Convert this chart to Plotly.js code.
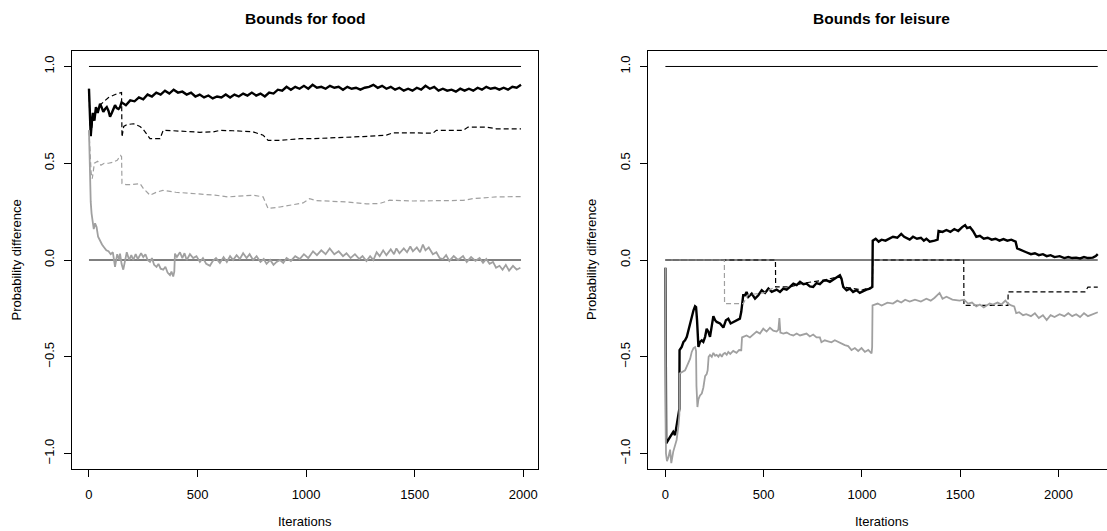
<!DOCTYPE html>
<html>
<head>
<meta charset="utf-8">
<script src="https://cdn.plot.ly/plotly-3.0.1.min.js"></script>
<style>html,body{margin:0;padding:0;background:#fff;}#chart{width:1107px;height:531px;}</style>
</head>
<body>
<div id="chart"></div>
<script>
// ---------- DATA ----------
const panelTitles = ["Bounds for food", "Bounds for leisure"];
const xAxisTitle = "Iterations";
const yAxisTitle = "Probability difference";
const xTickVals = [0, 500, 1000, 1500, 2000];
const xTickText = ["0", "500", "1000", "1500", "2000"];
const yTickVals = [-1, -0.5, 0, 0.5, 1];
const yTickText = ["\u22121.0", "\u22120.5", "0.0", "0.5", "1.0"];

// reference lines
const foodRefX = [0, 1990];
const leisureRefX = [0, 2200];
const refOne = [1, 1];
const refZero = [0, 0];

// food: black solid (noisy)
const foodBlackX = [0,3,8,12,18,25,32,40,51,58,66,74,82,90,97,105,112,120,128,136,143,
  150,170,190,210,230,250,270,290,310,330,
  350,370,390,410,430,450,470,490,510,530,
  550,570,590,610,630,650,670,690,710,730,
  750,770,790,810,830,850,870,890,910,930,
  950,970,990,1010,1030,1050,1070,1090,1110,1130,
  1150,1170,1190,1210,1230,1250,1270,1290,1310,1330,
  1350,1370,1390,1410,1430,1450,1470,1490,1510,1530,
  1550,1570,1590,1610,1630,1650,1670,1690,1710,1730,
  1750,1770,1790,1810,1830,1850,1870,1890,1910,1930,
  1950,1970,1990];
const foodBlackY = [0.885,0.80,0.64,0.70,0.76,0.72,0.79,0.76,0.807,0.79,0.765,0.78,0.79,0.77,0.74,0.76,0.775,0.80,0.785,0.78,0.79,
  0.815,0.80,0.825,0.82,0.84,0.83,0.855,0.845,0.865,0.855,
  0.875,0.86,0.88,0.865,0.87,0.855,0.865,0.845,0.855,0.84,
  0.85,0.835,0.845,0.84,0.855,0.84,0.855,0.845,0.86,0.85,
  0.865,0.85,0.86,0.845,0.865,0.86,0.88,0.875,0.895,0.88,
  0.895,0.885,0.9,0.885,0.905,0.89,0.895,0.885,0.9,0.89,
  0.895,0.88,0.895,0.885,0.89,0.88,0.89,0.895,0.905,0.89,
  0.9,0.885,0.895,0.88,0.89,0.875,0.885,0.875,0.89,0.88,
  0.9,0.885,0.895,0.875,0.885,0.875,0.88,0.87,0.885,0.875,
  0.885,0.875,0.89,0.88,0.895,0.885,0.89,0.88,0.89,0.88,
  0.895,0.89,0.905];

// food: black dashed (step-like)
const foodBlackDashX = [0,5,10,20,35,50,70,90,110,130,
  150,152,160,175,205,235,250,265,281,327,
  342,388,450,511,572,603,664,756,802,825,
  879,971,1032,1109,1186,1262,1370,1400,1492,1584,
  1600,1723,1746,1830,1876,1990];
const foodBlackDashY = [0.885,0.70,0.66,0.74,0.78,0.80,0.82,0.84,0.85,0.86,
  0.865,0.635,0.69,0.70,0.704,0.69,0.675,0.652,0.627,0.627,
  0.67,0.668,0.665,0.66,0.662,0.67,0.668,0.662,0.645,0.618,
  0.618,0.627,0.627,0.63,0.635,0.638,0.645,0.657,0.657,0.655,
  0.67,0.67,0.687,0.687,0.678,0.678];

// food: gray dashed
const foodGrayDashX = [0,5,10,15,25,40,55,70,90,110,
  130,145,150,152,170,200,235,250,265,281,
  310,340,400,460,520,580,640,700,756,802,
  825,880,940,986,1016,1047,1186,1278,1339,1385,
  1492,1646,1723,1769,1876,1990];
const foodGrayDashY = [0.67,0.55,0.45,0.42,0.50,0.51,0.49,0.50,0.50,0.505,
  0.515,0.54,0.535,0.395,0.39,0.39,0.395,0.37,0.352,0.335,
  0.35,0.36,0.35,0.345,0.34,0.335,0.326,0.33,0.335,0.326,
  0.266,0.274,0.288,0.295,0.317,0.307,0.30,0.29,0.292,0.309,
  0.305,0.307,0.308,0.317,0.326,0.328];

// food: gray solid (noisy)
const foodGrayX = [0,2,5,8,12,18,22,28,35,42,50,60,70,80,90,100,110,115,
  120,130,140,143,150,158,165,174,185,195,
  204,215,225,240,250,260,270,281,290,300,
  311,320,330,342,352,362,373,380,388,393,
  396,405,419,430,440,450,465,480,495,511,
  525,540,557,570,585,603,620,635,650,664,
  680,695,710,726,740,756,772,790,805,818,
  835,850,864,880,895,910,930,950,971,990,
  1010,1032,1050,1070,1090,1109,1130,1150,1170,1186,
  1205,1225,1245,1260,1278,1295,1310,1325,1339,1355,
  1370,1390,1405,1416,1430,1450,1465,1480,1492,1510,
  1525,1538,1550,1565,1584,1600,1615,1630,1645,1660,
  1680,1700,1723,1740,1760,1780,1799,1815,1830,1845,
  1861,1875,1891,1905,1920,1935,1953,1970,1987];
const foodGrayY = [0.67,0.55,0.41,0.30,0.24,0.19,0.16,0.19,0.17,0.12,0.10,0.08,0.065,0.05,0.045,0.03,0.04,0.0,
  -0.036,0.03,0.0,0.033,-0.02,-0.05,0.0,0.04,0.0,0.025,
  0.0,0.03,0.005,0.035,0.015,0.03,0.0,-0.01,0.01,-0.025,
  -0.036,-0.02,-0.045,-0.05,-0.035,-0.065,-0.078,-0.06,-0.085,-0.06,
  0.033,0.015,0.04,0.01,0.035,0.0,0.03,0.01,0.02,-0.01,
  0.01,-0.02,-0.03,-0.005,0.01,-0.015,0.015,-0.01,0.02,0.0,
  0.025,0.005,0.035,0.01,0.03,0.0,0.02,-0.01,0.005,-0.02,
  0.0,-0.025,-0.01,0.0,-0.015,0.01,-0.005,0.02,0.005,0.03,
  0.01,0.045,0.025,0.05,0.03,0.06,0.03,0.045,0.02,0.035,
  0.01,0.03,0.005,0.02,-0.005,0.02,0.0,0.04,0.02,0.05,
  0.025,0.055,0.03,0.06,0.035,0.06,0.04,0.07,0.045,0.065,
  0.04,0.08,0.05,0.065,0.03,0.04,0.01,0.005,0.025,-0.005,
  0.02,0.0,0.02,-0.01,0.015,-0.005,0.01,-0.015,0.005,-0.02,
  -0.01,-0.04,-0.03,-0.05,-0.025,-0.055,-0.03,-0.05,-0.04];

// leisure: black solid (noisy)
const leisureBlackX = [0,4,24,40,49,57,66,71,72,83,
  92,100,109,117,126,134,143,151,156,161,
  168,176,185,193,202,210,219,227,236,244,
  253,261,278,295,308,320,332,345,362,379,
  386,396,405,413,422,439,456,473,490,507,
  524,541,566,583,600,617,634,651,668,685,
  702,718,735,752,769,786,803,820,837,854,
  871,888,896,905,922,939,955,972,989,1006,
  1023,1040,1053,1055,1070,1085,1100,1120,1140,1158,
  1180,1200,1215,1230,1243,1260,1280,1300,1315,1328,
  1345,1370,1385,1390,1410,1430,1450,1470,1490,1510,
  1525,1535,1550,1565,1582,1600,1620,1640,1660,1680,
  1700,1720,1740,1760,1782,1790,1800,1820,1836,1860,
  1880,1900,1921,1940,1960,1980,2006,2030,2050,2070,
  2090,2110,2130,2150,2175,2190,2200];
const leisureBlackY = [-0.04,-0.948,-0.914,-0.888,-0.905,-0.853,-0.793,-0.77,-0.466,-0.449,
  -0.423,-0.415,-0.397,-0.363,-0.337,-0.294,-0.26,-0.239,-0.243,-0.311,
  -0.449,-0.423,-0.415,-0.423,-0.397,-0.355,-0.372,-0.397,-0.346,-0.29,
  -0.311,-0.32,-0.328,-0.349,-0.311,-0.303,-0.328,-0.32,-0.311,-0.303,
  -0.268,-0.182,-0.182,-0.165,-0.19,-0.174,-0.2,-0.182,-0.156,-0.17,
  -0.148,-0.165,-0.153,-0.165,-0.148,-0.153,-0.139,-0.122,-0.13,-0.113,
  -0.125,-0.122,-0.136,-0.139,-0.119,-0.125,-0.108,-0.105,-0.113,-0.101,
  -0.091,-0.079,-0.096,-0.139,-0.156,-0.148,-0.165,-0.156,-0.17,-0.16,
  -0.153,-0.148,-0.139,0.10,0.11,0.095,0.105,0.10,0.11,0.12,
  0.115,0.135,0.12,0.11,0.105,0.12,0.11,0.115,0.10,0.11,
  0.095,0.10,0.105,0.15,0.145,0.155,0.145,0.16,0.15,0.17,
  0.18,0.165,0.17,0.15,0.12,0.125,0.11,0.115,0.105,0.11,
  0.10,0.108,0.10,0.105,0.095,0.06,0.055,0.045,0.04,0.03,
  0.035,0.025,0.03,0.02,0.025,0.015,0.02,0.01,0.015,0.01,
  0.012,0.008,0.015,0.01,0.012,0.02,0.03];

// leisure: black dashed
const leisureBlackDashX = [0,560,561,634,700,800,888,905,1000,1053,1055,1518,1519,1743,1744,2135,2150,2200];
const leisureBlackDashY = [0,0,-0.139,-0.139,-0.12,-0.105,-0.085,-0.139,-0.155,-0.139,0,0,-0.234,-0.234,-0.165,-0.165,-0.14,-0.14];

// leisure: gray dashed
const leisureGrayDashX = [0,300,301,396,420,500,560];
const leisureGrayDashY = [0,0,-0.225,-0.225,-0.18,-0.17,-0.139];

// leisure: gray solid (noisy)
const leisureGrayX = [0,1,3,8,15,24,30,40,48,57,
  66,71,72,83,92,100,109,117,126,134,
  143,151,156,158,163,168,176,185,193,202,
  210,215,220,227,236,244,253,261,270,278,
  287,295,303,312,320,330,345,362,375,386,
  390,396,413,430,447,464,481,498,515,532,
  549,566,575,580,585,600,617,634,651,668,
  685,702,718,735,752,769,786,794,811,828,
  845,862,880,896,913,930,947,964,981,998,
  1015,1032,1049,1052,1054,1080,1100,1130,1158,1180,
  1200,1220,1243,1270,1300,1328,1350,1370,1395,1410,
  1430,1460,1497,1520,1540,1560,1582,1600,1620,1650,
  1667,1690,1710,1730,1743,1760,1775,1785,1800,1820,
  1836,1860,1880,1900,1921,1940,1960,1980,2006,2030,
  2050,2070,2090,2110,2130,2150,2175,2200];
const leisureGrayY = [-0.04,-0.55,-1.0,-1.04,-1.02,-0.98,-1.05,-0.99,-0.96,-0.93,
  -0.86,-0.80,-0.587,-0.58,-0.575,-0.57,-0.55,-0.535,-0.51,-0.475,
  -0.455,-0.45,-0.47,-0.65,-0.76,-0.72,-0.70,-0.69,-0.66,-0.60,
  -0.59,-0.57,-0.50,-0.49,-0.50,-0.48,-0.495,-0.49,-0.50,-0.485,
  -0.50,-0.485,-0.48,-0.49,-0.475,-0.485,-0.47,-0.48,-0.465,-0.466,
  -0.40,-0.397,-0.39,-0.40,-0.385,-0.37,-0.38,-0.355,-0.37,-0.35,
  -0.365,-0.37,-0.36,-0.30,-0.375,-0.38,-0.375,-0.385,-0.39,-0.38,
  -0.39,-0.385,-0.38,-0.395,-0.385,-0.40,-0.40,-0.425,-0.415,-0.42,
  -0.425,-0.415,-0.425,-0.43,-0.44,-0.445,-0.465,-0.455,-0.47,-0.455,
  -0.475,-0.465,-0.483,-0.45,-0.234,-0.225,-0.235,-0.22,-0.225,-0.21,
  -0.22,-0.205,-0.215,-0.205,-0.215,-0.20,-0.21,-0.195,-0.17,-0.20,
  -0.19,-0.205,-0.21,-0.205,-0.225,-0.22,-0.24,-0.23,-0.245,-0.225,
  -0.23,-0.22,-0.23,-0.21,-0.225,-0.235,-0.24,-0.275,-0.27,-0.285,
  -0.28,-0.29,-0.275,-0.30,-0.285,-0.31,-0.285,-0.295,-0.28,-0.29,
  -0.275,-0.29,-0.28,-0.295,-0.275,-0.29,-0.28,-0.27];

// ---------- STYLE ----------
const FONT = "Liberation Sans, Arial, Helvetica, sans-serif";
const GRAY = "#a0a0a0";
const DASH = "5px,3px";
const W = 1107, H = 531;

function tr(x, y, xa, ya, color, width, dash) {
  return {x: x, y: y, xaxis: xa, yaxis: ya, type: "scatter", mode: "lines",
    line: {color: color, width: width, dash: dash || "solid"}, hoverinfo: "skip", showlegend: false};
}

const data = [
  tr(foodRefX, refOne, "x", "y", "#000", 1),
  tr(foodRefX, refZero, "x", "y", "#000", 1),
  tr(foodBlackX, foodBlackY, "x", "y", "#000", 2.4),
  tr(foodBlackDashX, foodBlackDashY, "x", "y", "#000", 1.2, DASH),
  tr(foodGrayX, foodGrayY, "x", "y", GRAY, 1.8),
  tr(foodGrayDashX, foodGrayDashY, "x", "y", GRAY, 1.2, DASH),

  tr(leisureRefX, refOne, "x2", "y2", "#000", 1),
  tr(leisureRefX, refZero, "x2", "y2", "#000", 1),
  tr(leisureBlackX, leisureBlackY, "x2", "y2", "#000", 2.4),
  tr(leisureBlackDashX, leisureBlackDashY, "x2", "y2", "#000", 1.2, DASH),
  tr(leisureGrayX, leisureGrayY, "x2", "y2", GRAY, 1.8),
  tr(leisureGrayDashX, leisureGrayDashY, "x2", "y2", GRAY, 1.2, DASH)
];

const boxTop = 51, boxBottom = 469;
const leftL = 71.7, leftR = 538.3;
const rightL = 648.3, rightFullR = 1115.3;

function xAxis(dom, range, mirror) {
  return {domain: dom, range: range, tickvals: xTickVals, ticktext: xTickText,
    ticks: "outside", ticklen: 7, tickwidth: 1, tickcolor: "#000",
    ticklabelstandoff: 6,
    showline: true, mirror: mirror, linecolor: "#000", linewidth: 1,
    showgrid: false, zeroline: false, fixedrange: true,
    tickfont: {family: FONT, size: 13, color: "#000"}};
}
function yAxis(range, mirror, anchor) {
  return {domain: [1 - boxBottom / H, 1 - boxTop / H], range: range, anchor: anchor,
    tickvals: yTickVals, ticktext: yTickText, tickangle: -90,
    ticks: "outside", ticklen: 7, tickwidth: 1, tickcolor: "#000",
    ticklabelstandoff: 5,
    showline: true, mirror: mirror, linecolor: "#000", linewidth: 1,
    showgrid: false, zeroline: false, fixedrange: true,
    tickfont: {family: FONT, size: 13, color: "#000"}};
}

const leftMid = (leftL + leftR) / 2, rightMid = (rightL + rightFullR) / 2;
function ann(text, xpx, ypx, size, angle) {
  return {text: text, xref: "paper", yref: "paper", x: xpx / W, y: 1 - ypx / H,
    xanchor: "center", yanchor: "middle", showarrow: false, textangle: angle || 0,
    font: {family: FONT, size: size, color: "#000"}};
}

const layout = {
  width: W, height: H, autosize: false,
  margin: {l: 0, r: 0, t: 0, b: 0, pad: 0},
  paper_bgcolor: "#fff", plot_bgcolor: "#fff",
  showlegend: false,
  xaxis: Object.assign(xAxis([leftL / W, leftR / W], [-79.6, 2069.6], true), {anchor: "y"}),
  yaxis: yAxis([-1.08, 1.08], true, "x"),
  // right panel: its box runs past the picture edge, so only bottom, top and left sides show
  xaxis2: Object.assign(xAxis([rightL / W, 1], [-87, 2247], true), {anchor: "y2"}),
  yaxis2: yAxis([-1.08, 1.08], false, "x2"),
  annotations: [
    ann("<b>" + panelTitles[0] + "</b>", leftMid, 18, 15.5),
    ann("<b>" + panelTitles[1] + "</b>", rightMid, 18, 15.5),
    ann(xAxisTitle, leftMid, 521, 13),
    ann(xAxisTitle, rightMid, 521, 13),
    ann(yAxisTitle, 15.5, 260, 13, -90),
    ann(yAxisTitle, 591, 260, 13, -90)
  ]
};

Plotly.newPlot("chart", data, layout, {staticPlot: true, displayModeBar: false});
</script>
</body>
</html>
